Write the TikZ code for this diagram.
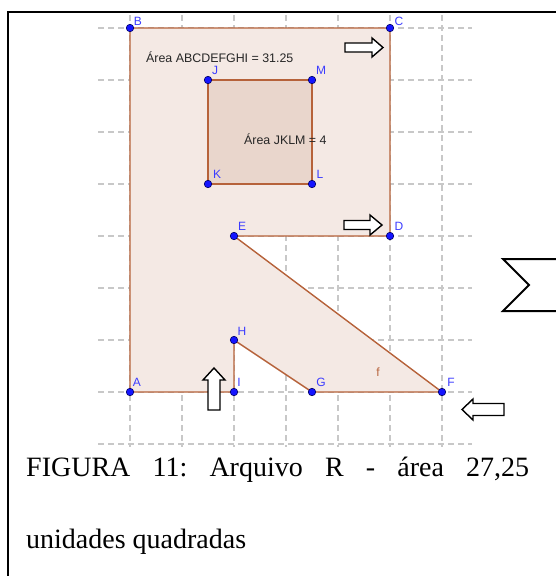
\documentclass[tikz,border=0pt]{standalone}
\usepackage{fontspec}
\setmainfont{Liberation Serif}
\newfontfamily\gsans{Liberation Sans}
\definecolor{gbrown}{RGB}{182,98,58}
\definecolor{gfill}{RGB}{244,233,228}
\definecolor{gfilltwo}{RGB}{233,214,204}
\definecolor{gblue}{RGB}{20,20,255}
\definecolor{glabel}{RGB}{60,60,255}
\definecolor{ggrid}{RGB}{200,200,200}
\frenchspacing
\begin{document}
\begin{tikzpicture}[x=1pt,y=-1pt,
  gridline/.style={draw=ggrid,line width=1.1pt,dash pattern=on 6pt off 4pt},
  edge/.style={draw=gbrown,line width=1.4pt,line join=round},
  pt/.style={circle,fill=gblue,draw=black!60!blue,line width=0.6pt,inner sep=0pt,minimum size=7.5pt},
  plabel/.style={font=\gsans\fontsize{12}{12}\selectfont,text=glabel,inner sep=0pt},
  alabel/.style={font=\gsans\fontsize{12.4}{13}\selectfont,text=black!85,inner sep=0pt,anchor=west},
  blockarrow/.style={draw=black,line width=1.4pt,fill=white,line join=miter}]
\useasboundingbox (0,0) rectangle (556,576);
% grid
\foreach \gx in {130,182,...,442} \draw[gridline] (\gx,15) -- (\gx,447);
\foreach \gy in {28,80,...,444} \draw[gridline] (98,\gy) -- (472,\gy);
% points
\coordinate (A) at (130,392);
\coordinate (B) at (130,28);
\coordinate (C) at (390,28);
\coordinate (D) at (390,236);
\coordinate (E) at (234,236);
\coordinate (F) at (442,392);
\coordinate (G) at (312,392);
\coordinate (H) at (234,340);
\coordinate (I) at (234,392);
\coordinate (J) at (208,80);
\coordinate (K) at (208,184);
\coordinate (L) at (312,184);
\coordinate (M) at (312,80);
% fills
\fill[gfill] (A) -- (B) -- (C) -- (D) -- (E) -- (F) -- (G) -- (H) -- (I) -- cycle;
\fill[gfilltwo] (J) -- (K) -- (L) -- (M) -- cycle;
% edges
\draw[edge] (A) -- (B) -- (C) -- (D) -- (E) -- (F) -- (G) -- (H) -- (I) -- cycle;
\draw[edge] (J) -- (K) -- (L) -- (M) -- cycle;
% area labels
\node[alabel] (areaP) at (146,57) {Área ABCDEFGHI = 31.25};
\node[alabel] (areaQ) at (244,139) {Área JKLM = 4};
\node[font=\gsans\fontsize{12}{12}\selectfont,text=gbrown,inner sep=0pt] (flab) at (378,372) {f};
% dots
\foreach \p in {A,B,C,D,E,F,G,H,I,J,K,L,M} \node[pt] (dot\p) at (\p) {};
% point labels
\node[plabel] (lA) at (137,382) {A};
\node[plabel] (lB) at (138,21) {B};
\node[plabel] (lC) at (399,21) {C};
\node[plabel] (lD) at (399,226) {D};
\node[plabel] (lE) at (242,226) {E};
\node[plabel] (lF) at (451,382) {F};
\node[plabel] (lG) at (321,382) {G};
\node[plabel] (lH) at (242,331) {H};
\node[plabel] (lI) at (239,382) {I};
\node[plabel] (lJ) at (215,70) {J};
\node[plabel] (lK) at (217,174) {K};
\node[plabel] (lL) at (320,174) {L};
\node[plabel] (lM) at (321,70) {M};
% block arrows
\draw[blockarrow,shift={(345,47.5)}] (0,-4.5) -- (27,-4.5) -- (27,-9.5) -- (38,0) -- (27,9.5) -- (27,4.5) -- (0,4.5) -- cycle;
\draw[blockarrow,shift={(344,225)}] (0,-4.5) -- (26,-4.5) -- (26,-10) -- (38,0) -- (26,10) -- (26,4.5) -- (0,4.5) -- cycle;
\draw[blockarrow,shift={(214,368)}] (0,0) -- (11,12) -- (6,12) -- (6,42) -- (-6,42) -- (-6,12) -- (-11,12) -- cycle;
\draw[blockarrow,shift={(462,409.5)}] (0,0) -- (11,-10.5) -- (11,-6) -- (42,-6) -- (42,6) -- (11,6) -- (11,10.5) -- cycle;
% sigma
\draw[line width=2pt,line join=miter] (557,259) -- (503,259) -- (529,285) -- (503,311) -- (557,311);
% frame
\draw[line width=2pt] (8,577) -- (8,12) -- (557,12);
% caption
\node[anchor=base west,inner sep=0pt,font=\fontsize{28}{32}\selectfont] (cap1) at (26,476) {\makebox[503pt][s]{FIGURA 11: Arquivo R - área 27,25}};
\node[anchor=base west,inner sep=0pt,font=\fontsize{28}{32}\selectfont] (cap2) at (26,548) {unidades quadradas};
\end{tikzpicture}
\end{document}
